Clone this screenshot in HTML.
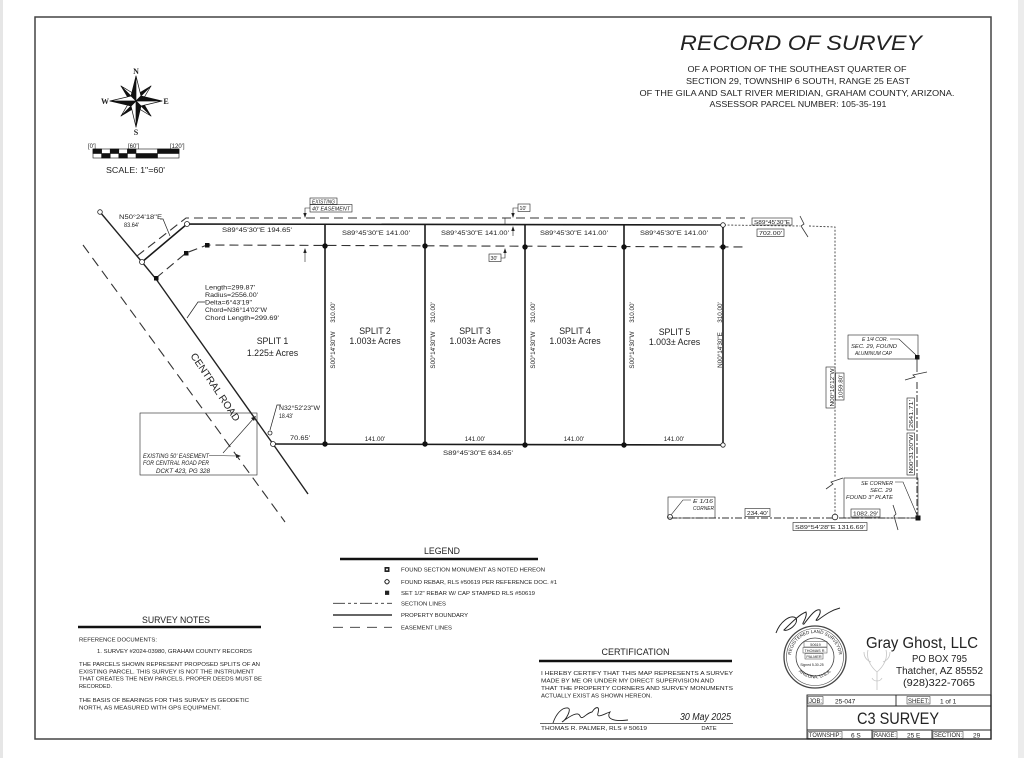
<!DOCTYPE html>
<html><head><meta charset="utf-8">
<style>
html,body{margin:0;padding:0;background:#fff;}
body{width:1024px;height:758px;overflow:hidden;position:relative;}
svg{position:absolute;left:0;top:0;}
text{font-family:"Liberation Sans",sans-serif;fill:#222;}
.it{font-style:italic;}
</style></head><body>
<svg width="1024" height="758" viewBox="0 0 1024 758" xmlns="http://www.w3.org/2000/svg">
<rect x="0" y="0" width="3" height="758" fill="#e6e6e6"/>
<rect x="1018" y="0" width="6" height="758" fill="#ececec"/>
<rect x="35" y="17" width="956" height="722" fill="none" stroke="#444" stroke-width="1.5"/>

<!-- Title -->
<text x="801" y="50" font-size="21" class="it" text-anchor="middle" textLength="242" lengthAdjust="spacingAndGlyphs" fill="#111">RECORD OF SURVEY</text>
<g font-size="8.6" fill="#333" text-anchor="middle">
<text x="797" y="72" textLength="219" lengthAdjust="spacingAndGlyphs">OF A PORTION OF THE SOUTHEAST QUARTER OF</text>
<text x="798" y="84" textLength="224" lengthAdjust="spacingAndGlyphs">SECTION 29, TOWNSHIP 6 SOUTH, RANGE 25 EAST</text>
<text x="797" y="96" textLength="315" lengthAdjust="spacingAndGlyphs">OF THE GILA AND SALT RIVER MERIDIAN, GRAHAM COUNTY, ARIZONA.</text>
<text x="798" y="107" textLength="177" lengthAdjust="spacingAndGlyphs">ASSESSOR PARCEL NUMBER: 105-35-191</text>
</g>

<!-- Compass -->
<g stroke="#111" stroke-width="0.7" stroke-linejoin="round">
<polygon points="136,101 151,86 136,95" fill="#111"/><polygon points="136,101 151,86 142,101" fill="#fff"/>
<polygon points="136,101 151,116 142,101" fill="#111"/><polygon points="136,101 151,116 136,107" fill="#fff"/>
<polygon points="136,101 121,116 136,107" fill="#111"/><polygon points="136,101 121,116 130,101" fill="#fff"/>
<polygon points="136,101 121,86 130,101" fill="#111"/><polygon points="136,101 121,86 136,95" fill="#fff"/>
<polygon points="136,101 136,76 131,96" fill="#111"/><polygon points="136,101 136,76 141,96" fill="#fff"/>
<polygon points="136,101 162,101 141,96" fill="#111"/><polygon points="136,101 162,101 141,106" fill="#fff"/>
<polygon points="136,101 136,127 141,106" fill="#111"/><polygon points="136,101 136,127 131,106" fill="#fff"/>
<polygon points="136,101 110,101 131,106" fill="#111"/><polygon points="136,101 110,101 131,96" fill="#fff"/>
</g>
<g font-weight="bold" font-size="8" text-anchor="middle">
<text x="136" y="74" style="font-family:'Liberation Serif',serif">N</text>
<text x="136" y="135" style="font-family:'Liberation Serif',serif">S</text>
<text x="105" y="104" style="font-family:'Liberation Serif',serif">W</text>
<text x="166" y="104" style="font-family:'Liberation Serif',serif">E</text>
</g>
<!-- Scale bar -->
<g font-size="6" fill="#333">
<text x="88" y="148">[0']</text>
<text x="128" y="148">[60']</text>
<text x="170" y="148">[120']</text>
</g>
<g stroke="#111" stroke-width="0.6">
<rect x="93" y="149" width="86" height="9" fill="#fff"/>
<rect x="93" y="149" width="8.6" height="4.5" fill="#111"/>
<rect x="101.6" y="153.5" width="8.6" height="4.5" fill="#111"/>
<rect x="110.2" y="149" width="8.6" height="4.5" fill="#111"/>
<rect x="118.8" y="153.5" width="8.6" height="4.5" fill="#111"/>
<rect x="127.4" y="149" width="8.6" height="4.5" fill="#111"/>
<rect x="136" y="153.5" width="21.5" height="4.5" fill="#111"/>
<rect x="157.5" y="149" width="21.5" height="4.5" fill="#111"/>
</g>
<text x="135.5" y="173" font-size="8" text-anchor="middle" textLength="59" lengthAdjust="spacingAndGlyphs" fill="#333">SCALE: 1"=60'</text>

<!-- Easement dashed lines -->
<g fill="none" stroke="#333" stroke-width="1.1" stroke-dasharray="9,5">
<polyline points="137,256 186,218 745,218"/>
<polyline points="156,278 186,253 207,245 747,247"/>
</g>
<!-- Road centerline dashed -->
<line x1="83" y1="245" x2="285" y2="522" stroke="#333" stroke-width="1.1" stroke-dasharray="10,6"/>
<!-- Road ROW line -->
<polyline points="100,212 142,262 156,279 273,444 308,494" fill="none" stroke="#222" stroke-width="1.4"/>
<!-- Property lines -->
<g fill="none" stroke="#1a1a1a" stroke-width="1.6">
<polyline points="142,262 187,224 723,225 723,445 273,444"/>
<line x1="325" y1="225" x2="325" y2="444"/>
<line x1="425" y1="225" x2="425" y2="444"/>
<line x1="525" y1="225" x2="525" y2="445"/>
<line x1="624" y1="225" x2="624" y2="445"/>
</g>

<!-- Section lines -->
<g fill="none" stroke="#444" stroke-width="0.9" stroke-dasharray="2,1.6">
<polyline points="724,225 800,226"/>
<polyline points="809,226 835,227 835,478"/>
<line x1="835" y1="488" x2="835" y2="518"/>
</g>
<polyline points="800,216 804,224 801,226 808,237" fill="none" stroke="#333" stroke-width="0.8"/>
<polyline points="826,489 833,484 831,482 843,478" fill="none" stroke="#333" stroke-width="0.8"/>
<g fill="none" stroke="#333" stroke-width="1" stroke-dasharray="7,2,2,2">
<line x1="670" y1="518" x2="893" y2="518"/>
<line x1="898" y1="518" x2="918" y2="518"/>
<line x1="917" y1="382" x2="917" y2="518"/>
</g>
<line x1="917" y1="357" x2="917" y2="372" stroke="#333" stroke-width="0.9"/>
<polyline points="893,505 896,514 894,516 898,530" fill="none" stroke="#333" stroke-width="0.8"/>
<polyline points="905,380 915,377 913,375 927,372" fill="none" stroke="#333" stroke-width="0.8"/>

<!-- Markers -->
<g fill="#fff" stroke="#222" stroke-width="0.8">
<circle cx="100" cy="212" r="2.3"/>
<circle cx="142" cy="262" r="2.5"/>
<circle cx="187" cy="224" r="2.5"/>
<circle cx="723" cy="225" r="2.3"/>
<circle cx="723" cy="445" r="2.2"/>
<circle cx="270" cy="433" r="2"/>
<circle cx="273" cy="444" r="2.5"/>
<circle cx="670" cy="517" r="2.5"/>
<circle cx="835" cy="517" r="2.8"/>
</g>
<g fill="#111">
<rect x="205" y="243" width="4.5" height="4.5"/>
<rect x="184" y="251" width="4.5" height="4.5"/>
<rect x="154" y="276" width="4.5" height="4.5"/>
<circle cx="325" cy="246" r="2.7"/><circle cx="425" cy="246" r="2.7"/><circle cx="525" cy="247" r="2.7"/><circle cx="624" cy="247" r="2.7"/><circle cx="723" cy="247" r="2.7"/>
<circle cx="325" cy="444" r="2.7"/><circle cx="425" cy="444" r="2.7"/><circle cx="525" cy="445" r="2.7"/><circle cx="624" cy="445" r="2.7"/>
<rect x="915" y="355" width="4.5" height="4.5"/>
<rect x="915.5" y="515.5" width="5" height="5"/>
</g>

<!-- Top labels -->
<g font-size="6.3" fill="#222">
<text x="222" y="232" textLength="70" lengthAdjust="spacingAndGlyphs">S89°45'30"E    194.65'</text>
<text x="342" y="235" textLength="68" lengthAdjust="spacingAndGlyphs">S89°45'30"E   141.00'</text>
<text x="441" y="235" textLength="68" lengthAdjust="spacingAndGlyphs">S89°45'30"E   141.00'</text>
<text x="540" y="235" textLength="68" lengthAdjust="spacingAndGlyphs">S89°45'30"E   141.00'</text>
<text x="640" y="235" textLength="68" lengthAdjust="spacingAndGlyphs">S89°45'30"E   141.00'</text>
<text x="119" y="219" textLength="43" lengthAdjust="spacingAndGlyphs">N50°24'18"E</text>
<text x="124" y="227" textLength="15" lengthAdjust="spacingAndGlyphs">83.64'</text>
<text x="279" y="410" textLength="41" lengthAdjust="spacingAndGlyphs">N32°52'23"W</text>
<text x="279" y="418" textLength="14" lengthAdjust="spacingAndGlyphs">18.43'</text>
<text x="290" y="440" textLength="20" lengthAdjust="spacingAndGlyphs">70.65'</text>
</g>
<g fill="none" stroke="#222" stroke-width="0.7">
<polyline points="160,219 163,219 170,236"/>
<polyline points="281,405 277,405 270,430"/>
<polyline points="205,302 198,302 187,318"/>
</g>
<!-- Curve data -->
<g font-size="6.1" fill="#222">
<text x="205" y="289.5" textLength="50" lengthAdjust="spacingAndGlyphs">Length=299.87'</text>
<text x="205" y="297" textLength="53" lengthAdjust="spacingAndGlyphs">Radius=2556.00'</text>
<text x="205" y="304.5" textLength="47" lengthAdjust="spacingAndGlyphs">Delta=6°43'19"</text>
<text x="205" y="312" textLength="62" lengthAdjust="spacingAndGlyphs">Chord=N36°14'02"W</text>
<text x="205" y="320" textLength="74" lengthAdjust="spacingAndGlyphs">Chord  Length=299.69'</text>
</g>
<text transform="translate(212.5,389) rotate(56)" font-size="10" text-anchor="middle" textLength="80" lengthAdjust="spacingAndGlyphs" fill="#222">CENTRAL ROAD</text>

<!-- Split labels -->
<g font-size="8.8" text-anchor="middle" fill="#222">
<text x="272.5" y="344">SPLIT 1</text><text x="272.5" y="356">1.225± Acres</text>
<text x="375" y="334">SPLIT 2</text><text x="375" y="344">1.003± Acres</text>
<text x="475" y="334">SPLIT 3</text><text x="475" y="344">1.003± Acres</text>
<text x="575" y="334">SPLIT 4</text><text x="575" y="344">1.003± Acres</text>
<text x="674.5" y="335">SPLIT 5</text><text x="674.5" y="345">1.003± Acres</text>
</g>
<!-- Bottom labels -->
<g font-size="6.3" text-anchor="middle" fill="#222">
<text x="375" y="441">141.00'</text>
<text x="475" y="441">141.00'</text>
<text x="574" y="441">141.00'</text>
<text x="674" y="441">141.00'</text>
<text x="478" y="455" textLength="70" lengthAdjust="spacingAndGlyphs">S89°45'30"E    634.65'</text>
</g>
<!-- Vertical lot labels -->
<g font-size="6.3" text-anchor="middle" fill="#222">
<text transform="translate(335,312.5) rotate(-90)">310.00'</text>
<text transform="translate(335,350) rotate(-90)">S00°14'30"W</text>
<text transform="translate(435,312.5) rotate(-90)">310.00'</text>
<text transform="translate(435,350) rotate(-90)">S00°14'30"W</text>
<text transform="translate(535,312.5) rotate(-90)">310.00'</text>
<text transform="translate(535,350) rotate(-90)">S00°14'30"W</text>
<text transform="translate(634,312.5) rotate(-90)">310.00'</text>
<text transform="translate(634,350) rotate(-90)">S00°14'30"W</text>
<text transform="translate(722,312.5) rotate(-90)">310.00'</text>
<text transform="translate(722,350) rotate(-90)">N00°14'30"E</text>
</g>

<!-- Easement notes -->
<g fill="none" stroke="#222" stroke-width="0.6">
<rect x="310" y="198" width="27" height="6.5"/>
<rect x="310" y="204.5" width="42" height="7.5"/>
<polyline points="310,208 305,208 305,216"/>
<line x1="305" y1="250" x2="305" y2="262"/>
<rect x="518" y="204" width="12" height="7.5"/>
<polyline points="518,208 513,208 513,216"/>
<line x1="513" y1="228" x2="513" y2="236"/>
<line x1="505" y1="218" x2="505" y2="225"/>
<rect x="489" y="254" width="12" height="7.5"/>
<polyline points="501,258 505,258 505,250"/>
<rect x="140" y="413" width="117" height="62"/>
<line x1="209" y1="455.5" x2="238" y2="456"/>
<line x1="223" y1="453" x2="254" y2="418"/>
</g>
<g fill="#222">
<polygon points="305,218 303.3,213 306.7,213"/>
<polygon points="305,248 303.3,253 306.7,253"/>
<polygon points="513,218 511.3,213 514.7,213"/>
<polygon points="513,226 511.3,231 514.7,231"/>
<polygon points="505,248 503.3,253 506.7,253"/>
<polygon points="241,456 236,454 236,458"/>
<polygon points="256,416 251,418 254,421"/>
</g>
<g font-size="5.3" class="it" fill="#222">
<text x="312" y="203.5" textLength="23" lengthAdjust="spacingAndGlyphs">EXISTING</text>
<text x="312" y="210.5" textLength="38" lengthAdjust="spacingAndGlyphs">40' EASEMENT</text>
<text x="519.5" y="210" font-style="normal">10'</text>
<text x="490.5" y="260" font-style="normal">30'</text>
</g>
<g font-size="6" class="it" fill="#222" text-anchor="end">
<text x="209" y="458" textLength="66" lengthAdjust="spacingAndGlyphs">EXISTING 50' EASEMENT</text>
<text x="209" y="465" textLength="66" lengthAdjust="spacingAndGlyphs">FOR CENTRAL ROAD PER</text>
<text x="210" y="473" textLength="54" lengthAdjust="spacingAndGlyphs">DCKT 423, PG 328</text>
</g>

<!-- Right side boxes -->
<g fill="#fff" stroke="#222" stroke-width="0.6">
<rect x="752" y="218" width="40" height="7"/>
<rect x="757" y="229" width="27" height="7.5"/>
<rect x="826" y="367" width="9" height="41"/>
<rect x="835.5" y="373" width="8.5" height="27"/>
<rect x="907" y="398" width="7.5" height="32"/>
<rect x="907" y="433" width="7.5" height="42"/>
<rect x="745" y="508.5" width="25" height="8"/>
<rect x="851" y="509" width="29" height="8"/>
<rect x="793" y="522.5" width="74" height="8"/>
</g>
<g fill="none" stroke="#222" stroke-width="0.6">
<rect x="848" y="335" width="70" height="24"/>
<rect x="844" y="478" width="74" height="40"/>
<rect x="668" y="497" width="47" height="21"/>
<polyline points="890,339 899,339 916,355"/>
<polyline points="895,482 903,482 917,515"/>
<polyline points="691,500 683,500 671,515"/>
</g>
<g font-size="5.8" fill="#222">
<text x="754" y="224" textLength="36" lengthAdjust="spacingAndGlyphs">S89°45'30"E</text>
<text x="759" y="235" textLength="23" lengthAdjust="spacingAndGlyphs">702.00'</text>
<text x="747" y="515" textLength="21" lengthAdjust="spacingAndGlyphs">234.40'</text>
<text x="853" y="515.5" textLength="25" lengthAdjust="spacingAndGlyphs">1082.29'</text>
<text x="795" y="529" textLength="70" lengthAdjust="spacingAndGlyphs">S89°54'28"E    1316.69'</text>
</g>
<g font-size="5.5" text-anchor="middle" fill="#222">
<text transform="translate(834,387.5) rotate(-90)" textLength="38" lengthAdjust="spacingAndGlyphs">N00°16'12"W</text>
<text transform="translate(842.5,386.5) rotate(-90)" textLength="24" lengthAdjust="spacingAndGlyphs">1059.80'</text>
<text transform="translate(913,414) rotate(-90)" textLength="28" lengthAdjust="spacingAndGlyphs">2641.71'</text>
<text transform="translate(913,454) rotate(-90)" textLength="39" lengthAdjust="spacingAndGlyphs">N00°31'20"W</text>
</g>
<g font-size="5.5" class="it" fill="#222">
<text x="862" y="341" textLength="26" lengthAdjust="spacingAndGlyphs">E 1/4 COR.</text>
<text x="851" y="348" textLength="46" lengthAdjust="spacingAndGlyphs">SEC. 29, FOUND</text>
<text x="855" y="355" textLength="37" lengthAdjust="spacingAndGlyphs">ALUMINUM CAP</text>
<text x="861" y="485" textLength="32" lengthAdjust="spacingAndGlyphs">SE CORNER</text>
<text x="870" y="492" textLength="22" lengthAdjust="spacingAndGlyphs">SEC. 29</text>
<text x="846" y="499" textLength="47" lengthAdjust="spacingAndGlyphs">FOUND 3" PLATE</text>
<text x="693" y="503" textLength="20" lengthAdjust="spacingAndGlyphs">E 1/16</text>
<text x="693" y="510" textLength="21" lengthAdjust="spacingAndGlyphs">CORNER</text>
</g>

<!-- Legend -->
<text x="442" y="554" font-size="9.5" text-anchor="middle" textLength="36" lengthAdjust="spacingAndGlyphs">LEGEND</text>
<line x1="340" y1="559" x2="538" y2="559" stroke="#111" stroke-width="2.5"/>
<rect x="384.5" y="567" width="5" height="5" fill="#222"/>
<circle cx="387" cy="569.5" r="1" fill="#fff"/>
<circle cx="387" cy="581.7" r="2.2" fill="#fff" stroke="#222" stroke-width="0.8"/>
<polygon points="387,579.2 389.5,581.7 387,584.2 384.5,581.7" fill="none" stroke="#222" stroke-width="0.6"/>
<rect x="385" y="590.7" width="4.2" height="4.2" fill="#222"/>
<line x1="333" y1="603.3" x2="392" y2="603.3" stroke="#333" stroke-width="0.9" stroke-dasharray="12,3,3,3,3,3"/>
<line x1="333" y1="615" x2="392" y2="615" stroke="#333" stroke-width="1.6"/>
<line x1="333" y1="627.3" x2="392" y2="627.3" stroke="#333" stroke-width="0.9" stroke-dasharray="10,7"/>
<g font-size="5.6" fill="#333">
<text x="401" y="571.5" textLength="144" lengthAdjust="spacingAndGlyphs">FOUND SECTION MONUMENT AS NOTED HEREON</text>
<text x="401" y="584" textLength="156" lengthAdjust="spacingAndGlyphs">FOUND REBAR, RLS #50619 PER REFERENCE DOC. #1</text>
<text x="401" y="595" textLength="134" lengthAdjust="spacingAndGlyphs">SET 1/2" REBAR W/ CAP STAMPED RLS #50619</text>
<text x="401" y="605.5" textLength="45" lengthAdjust="spacingAndGlyphs">SECTION LINES</text>
<text x="401" y="617" textLength="67" lengthAdjust="spacingAndGlyphs">PROPERTY BOUNDARY</text>
<text x="401" y="629.5" textLength="51" lengthAdjust="spacingAndGlyphs">EASEMENT LINES</text>
</g>

<!-- Survey notes -->
<text x="176" y="623" font-size="9" text-anchor="middle" textLength="68" lengthAdjust="spacingAndGlyphs">SURVEY NOTES</text>
<line x1="78" y1="627" x2="261" y2="627" stroke="#111" stroke-width="2.5"/>
<g font-size="5.7" fill="#333">
<text x="79" y="641.5" textLength="78" lengthAdjust="spacingAndGlyphs">REFERENCE DOCUMENTS:</text>
<text x="97" y="653" textLength="155" lengthAdjust="spacingAndGlyphs">1.  SURVEY #2024-03980, GRAHAM COUNTY RECORDS</text>
<text x="79" y="666" textLength="181" lengthAdjust="spacingAndGlyphs">THE PARCELS SHOWN REPRESENT PROPOSED SPLITS OF AN</text>
<text x="79" y="673.3" textLength="175" lengthAdjust="spacingAndGlyphs">EXISTING PARCEL.  THIS SURVEY IS NOT THE INSTRUMENT</text>
<text x="79" y="680.6" textLength="183" lengthAdjust="spacingAndGlyphs">THAT CREATES THE NEW PARCELS.  PROPER DEEDS MUST BE</text>
<text x="79" y="688" textLength="33" lengthAdjust="spacingAndGlyphs">RECORDED.</text>
<text x="79" y="702" textLength="170" lengthAdjust="spacingAndGlyphs">THE BASIS OF BEARINGS FOR THIS SURVEY IS GEODETIC</text>
<text x="79" y="709.3" textLength="142" lengthAdjust="spacingAndGlyphs">NORTH, AS MEASURED WITH GPS EQUIPMENT.</text>
</g>

<!-- Certification -->
<text x="635.5" y="655" font-size="9.5" text-anchor="middle" textLength="68" lengthAdjust="spacingAndGlyphs">CERTIFICATION</text>
<line x1="539" y1="661" x2="732" y2="661" stroke="#111" stroke-width="2.5"/>
<g font-size="5.9" fill="#333">
<text x="541" y="675" textLength="192" lengthAdjust="spacingAndGlyphs">I HEREBY CERTIFY THAT THIS MAP REPRESENTS A SURVEY</text>
<text x="541" y="682.5" textLength="173" lengthAdjust="spacingAndGlyphs">MADE BY ME OR UNDER MY DIRECT SUPERVISION AND</text>
<text x="541" y="690" textLength="192" lengthAdjust="spacingAndGlyphs">THAT THE PROPERTY CORNERS AND SURVEY MONUMENTS</text>
<text x="541" y="697.5" textLength="111" lengthAdjust="spacingAndGlyphs">ACTUALLY EXIST AS SHOWN HEREON.</text>
<text x="541" y="730" textLength="106" lengthAdjust="spacingAndGlyphs">THOMAS R. PALMER, RLS # 50619</text>
<text x="709" y="730" text-anchor="middle">DATE</text>
</g>
<line x1="540" y1="723.5" x2="733" y2="723.5" stroke="#333" stroke-width="0.8"/>
<text x="680" y="720" font-size="10" class="it" textLength="51" lengthAdjust="spacingAndGlyphs">30 May 2025</text>
<path d="M553,723 C556,714 562,707 568,708 C572,709 566,720 562,722 C570,716 578,711 580,716 C582,721 586,713 592,712 C596,706 600,706 598,713 C596,719 604,714 610,712 C606,718 612,722 628,720" fill="none" stroke="#222" stroke-width="0.9"/>

<!-- Seal -->
<g fill="none" stroke="#444">
<circle cx="815" cy="657" r="31" stroke-width="1.3"/>
<circle cx="815" cy="657" r="28.5" stroke-width="0.6"/>
<circle cx="815" cy="657" r="19" stroke-width="0.8"/>
<rect x="804" y="641.5" width="23" height="5.5" stroke-width="0.5"/>
<rect x="803" y="647.5" width="24" height="5.5" stroke-width="0.5"/>
<rect x="805" y="653.5" width="18" height="5.5" stroke-width="0.5"/>
</g>
<defs>
<path id="arcTop" d="M791,657 A24,24 0 0 1 839,657"/>
<path id="arcBot" d="M793,662 A23,23 0 0 0 837,662"/>
</defs>
<text font-size="4.6" fill="#444"><textPath href="#arcTop" startOffset="50%" text-anchor="middle">REGISTERED LAND SURVEYOR</textPath></text>
<text font-size="4.6" fill="#444"><textPath href="#arcBot" startOffset="50%" text-anchor="middle">ARIZONA, U.S.A.</textPath></text>
<g font-size="3.8" fill="#333" text-anchor="middle">
<text x="815.5" y="646">50619</text>
<text x="815" y="652">THOMAS R.</text>
<text x="814" y="658">PALMER</text>
<text x="812" y="666" font-size="3.4">Signed 5-30-25</text>
</g>
<path d="M776,633 C780,622 790,614 796,618 C799,624 788,632 784,630 C792,622 800,614 806,612 C808,618 800,625 804,624 C810,616 816,608 820,610 C822,616 812,622 818,620 C826,614 832,610 840,608" fill="none" stroke="#222" stroke-width="1"/>

<!-- Company -->
<g fill="none" stroke="#c4c4c4" stroke-width="0.8">
<path d="M877,690 L877,672 M877,672 C870,666 866,658 868,650 M871,662 C866,660 864,656 864,652 M877,672 C884,666 888,658 886,650 M883,662 C888,660 890,656 890,652 M872,678 C874,682 880,682 882,678"/>
</g>
<text x="866" y="648" font-size="15.5" fill="#7a7a7a" textLength="112" lengthAdjust="spacingAndGlyphs">Gray Ghost, LLC</text>
<g font-size="10" fill="#8c8c8c">
<text x="912" y="662" textLength="55" lengthAdjust="spacingAndGlyphs">PO BOX 795</text>
<text x="896" y="674" textLength="87" lengthAdjust="spacingAndGlyphs">Thatcher, AZ 85552</text>
<text x="903" y="686" textLength="72" lengthAdjust="spacingAndGlyphs">(928)322-7065</text>
</g>

<!-- Title block -->
<g fill="none" stroke="#222" stroke-width="0.9">
<rect x="807" y="695" width="184" height="44"/>
<line x1="807" y1="706" x2="991" y2="706"/>
<line x1="807" y1="730" x2="991" y2="730"/>
<line x1="896" y1="695" x2="896" y2="706"/>
<line x1="872" y1="730" x2="872" y2="739"/>
<line x1="932" y1="730" x2="932" y2="739"/>
</g>
<g fill="none" stroke="#222" stroke-width="0.5">
<rect x="808" y="696.5" width="15" height="7.5"/>
<rect x="907" y="696.5" width="23" height="7.5"/>
<rect x="808" y="731.5" width="34" height="7"/>
<rect x="873" y="731.5" width="24" height="7"/>
<rect x="933" y="731.5" width="30" height="7"/>
</g>
<g font-size="6" fill="#222">
<text x="809" y="703" textLength="13" lengthAdjust="spacingAndGlyphs">JOB:</text>
<text x="835" y="703.5" font-size="6.5">25-047</text>
<text x="908" y="703" textLength="21" lengthAdjust="spacingAndGlyphs">SHEET:</text>
<text x="940" y="703.5" font-size="6.5">1 of 1</text>
<text x="809" y="737" textLength="32" lengthAdjust="spacingAndGlyphs">TOWNSHIP:</text>
<text x="851" y="737.5" font-size="6.5">6 S</text>
<text x="874" y="737" textLength="22" lengthAdjust="spacingAndGlyphs">RANGE:</text>
<text x="907" y="737.5" font-size="6.5">25 E</text>
<text x="934" y="737" textLength="28" lengthAdjust="spacingAndGlyphs">SECTION:</text>
<text x="973" y="737.5" font-size="6.5">29</text>
</g>
<text x="898" y="724" font-size="16.7" text-anchor="middle" textLength="82" lengthAdjust="spacingAndGlyphs" fill="#111">C3 SURVEY</text>
</svg>
</body></html>
